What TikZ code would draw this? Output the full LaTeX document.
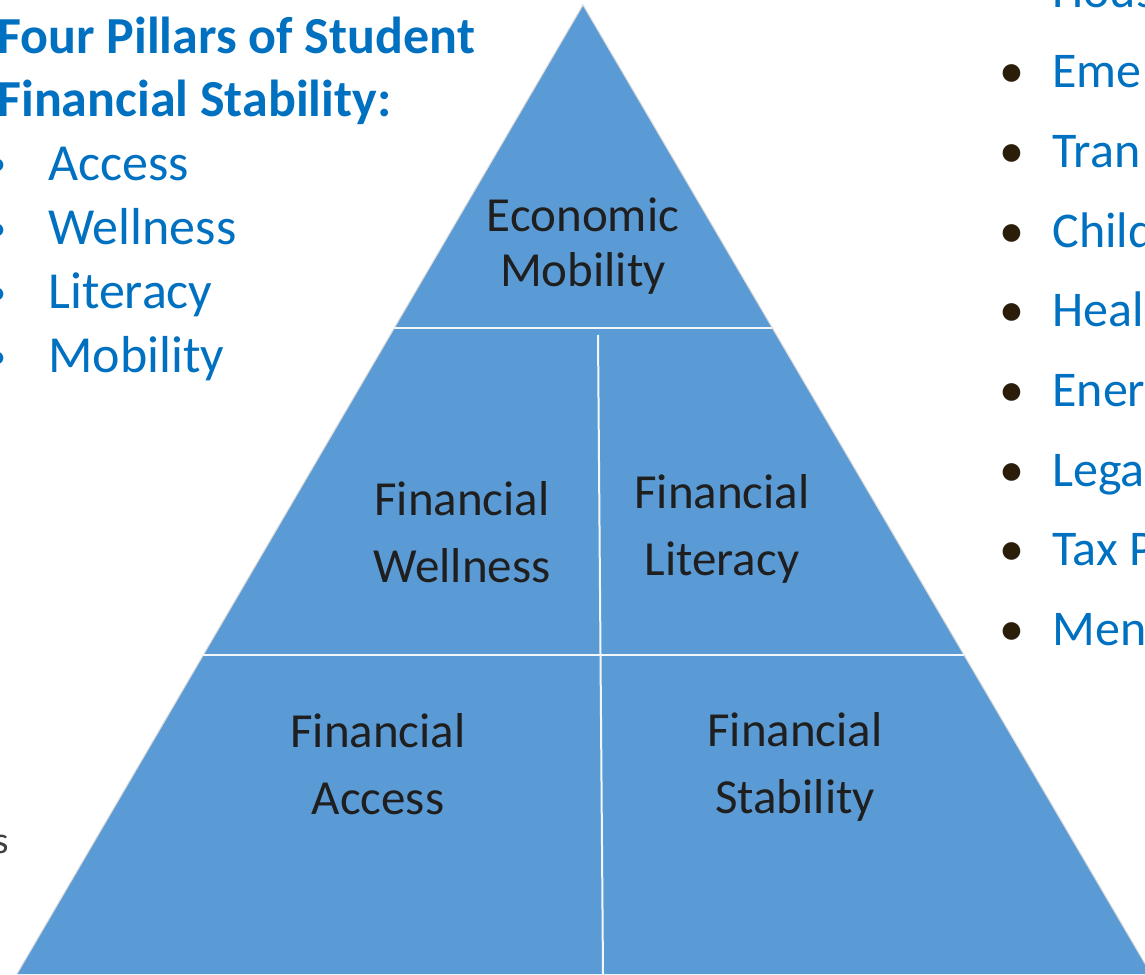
\documentclass[tikz,border=0pt]{standalone}
\usepackage{fontspec}
\setmainfont{Carlito}
\usetikzlibrary{calc,positioning}
\definecolor{pyramidblue}{HTML}{5B9BD5}
\definecolor{listblue}{HTML}{0070C0}
\definecolor{bulletbrown}{HTML}{2A1E0A}
\tikzset{
     heading/.style   = {font=\bfseries\fontsize{26}{31}\selectfont, text=listblue, anchor=base west, inner sep=0pt},
     pillar/.style    = {font=\fontsize{26}{32}\selectfont, text=listblue, anchor=base west, inner sep=0pt},
     service/.style   = {font=\fontsize{25}{30}\selectfont, text=listblue, anchor=base west, inner sep=0pt},
     bulletmark/.style = {font=\fontsize{25}{30}\selectfont, anchor=base, inner sep=0pt},
     level text/.style = {font=\fontsize{24.5}{33.5}\selectfont, text=black!88, align=center},
     divider/.style   = {white!92!pyramidblue, line width=1.3pt},
    }

\begin{document}
\begin{tikzpicture}[x=0.5pt,y=-0.5pt]
        \useasboundingbox (0,0) rectangle (1145,974);
        \clip (0,0) rectangle (1145,974);

        % pyramid
        \coordinate (apex)  at (583,5);
        \coordinate (baseL) at (17,974);
        \coordinate (baseR) at (1151,974);
        \fill[pyramidblue] (apex) -- (baseL) -- (baseR) -- cycle;
        \draw[gray!30, line width=0.5pt] (baseL) -- (apex) -- (baseR);

        \coordinate (midL) at ($(apex)!0.3333!(baseL)$);
        \coordinate (midR) at ($(apex)!0.3333!(baseR)$);
        \coordinate (lowL) at ($(apex)!0.6708!(baseL)$);
        \coordinate (lowR) at ($(apex)!0.6708!(baseR)$);
        \coordinate (splitT) at (598,335);
        \coordinate (splitB) at (603,974);
        \draw[divider] (midL) -- (midR);
        \draw[divider] (lowL) -- (lowR);
        \draw[divider, line width=1pt] (splitT) -- (splitB);

        \node [level text, font=\fontsize{24.5}{27.5}\selectfont] (econ) at (583,246) {Economic\\Mobility};
        \node [level text] (wellness)  at (462,532) {Financial\\Wellness};
        \node [level text] (literacy)  at (722,529) {Financial\\Literacy};
        \node [level text] (access)    at (378,764) {Financial\\Access};
        \node [level text] (stability) at (795,767) {Financial\\Stability};

        % left list
        \node [heading] (title1) at (-3,54) {Four Pillars of Student};
        \node [heading, below=31.5pt of title1.base west, anchor=base west] (title2) {Financial Stability:};

        \node [pillar] (pAccess) at (48,180) {Access};
        \node [pillar, below=32pt of pAccess.base west, anchor=base west] (pWellness) {Wellness};
        \node [pillar, below=32pt of pWellness.base west, anchor=base west] (pLiteracy) {Literacy};
        \node [pillar, below=32pt of pLiteracy.base west, anchor=base west] (pMobility) {Mobility};

        \node [bulletmark, font=\fontsize{18}{22}\selectfont, text=listblue] (b1) at (-3,176) {•};
        \node [bulletmark, font=\fontsize{18}{22}\selectfont, text=listblue] (b2) at (-3,240) {•};
        \node [bulletmark, font=\fontsize{18}{22}\selectfont, text=listblue] (b3) at (-3,304) {•};
        \node [bulletmark, font=\fontsize{18}{22}\selectfont, text=listblue] (b4) at (-3,368) {•};

        \node [font=\fontsize{19}{22}\selectfont, text=black!75, anchor=base east, inner sep=0pt] (cutS) at (9,853) {s};

        % right list
        \node [service] (sHous) at (1052,8) {Hous};
        \node [service, below=39.85pt of sHous.base west, anchor=base west] (sEme)  {Eme};
        \node [service, below=39.85pt of sEme.base west, anchor=base west]  (sTran) {Tran};
        \node [service, below=39.85pt of sTran.base west, anchor=base west] (sChil) {Child};
        \node [service, below=39.85pt of sChil.base west, anchor=base west] (sHeal) {Heal};
        \node [service, below=39.85pt of sHeal.base west, anchor=base west] (sEner) {Ener};
        \node [service, below=39.85pt of sEner.base west, anchor=base west] (sLega) {Lega};
        \node [service, below=39.85pt of sLega.base west, anchor=base west] (sTax)  {Tax P};
        \node [service, below=39.85pt of sTax.base west, anchor=base west]  (sMen)  {Men};

        \node [bulletmark, text=bulletbrown] (r2) at ($(sEme.base west)+(-40,0)$)  {•};
        \node [bulletmark, text=bulletbrown] (r3) at ($(sTran.base west)+(-40,0)$) {•};
        \node [bulletmark, text=bulletbrown] (r4) at ($(sChil.base west)+(-40,0)$) {•};
        \node [bulletmark, text=bulletbrown] (r5) at ($(sHeal.base west)+(-40,0)$) {•};
        \node [bulletmark, text=bulletbrown] (r6) at ($(sEner.base west)+(-40,0)$) {•};
        \node [bulletmark, text=bulletbrown] (r7) at ($(sLega.base west)+(-40,0)$) {•};
        \node [bulletmark, text=bulletbrown] (r8) at ($(sTax.base west)+(-40,0)$)  {•};
        \node [bulletmark, text=bulletbrown] (r9) at ($(sMen.base west)+(-40,0)$)  {•};
    \end{tikzpicture}
\end{document}
